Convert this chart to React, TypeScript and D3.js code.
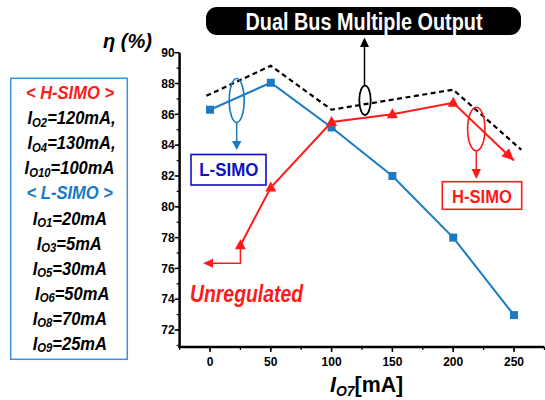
import React from "react";
import * as d3 from "d3";

const lX = [0, 50, 100, 150, 200, 250];
const lSimo = [86.3, 88.05, 85.15, 82.0, 78.0, 72.97];
const hX = [25, 50, 100, 150, 200, 250];
const hSimo = [77.5, 81.25, 85.5, 86.0, 86.75, 83.0];
const dX = [-3, 50, 100, 150, 200, 256];
const dual = [87.2, 89.15, 86.3, 86.95, 87.6, 83.7];
const xMajor = [0, 50, 100, 150, 200, 250];
const yMajor = [72, 74, 76, 78, 80, 82, 84, 86, 88, 90];

const legendLines: { c: string; cx: number; main?: string; sub?: string; rest?: string }[] = [
  { c: "#ff1a1a", cx: 70, rest: "< H-SIMO >" },
  { c: "#000", cx: 71.5, main: "I", sub: "O2", rest: "=120mA," },
  { c: "#000", cx: 71.5, main: "I", sub: "O4", rest: "=130mA," },
  { c: "#000", cx: 69.5, main: "I", sub: "O10", rest: "=100mA" },
  { c: "#1a7ac4", cx: 69.7, rest: "< L-SIMO >" },
  { c: "#000", cx: 69.8, main: "I", sub: "O1", rest: "=20mA" },
  { c: "#000", cx: 69.2, main: "I", sub: "O3", rest: "=5mA" },
  { c: "#000", cx: 69.8, main: "I", sub: "O5", rest: "=30mA" },
  { c: "#000", cx: 72.2, main: "I", sub: "O6", rest: "=50mA" },
  { c: "#000", cx: 69.8, main: "I", sub: "O8", rest: "=70mA" },
  { c: "#000", cx: 69.8, main: "I", sub: "O9", rest: "=25mA" },
];

const FONT = "'Liberation Sans', Arial, sans-serif";
const BLUE = "#1a7ac4";
const RED = "#ff1a1a";
const DBLUE = "#1010c8";

export default function App() {
  const x = d3.scaleLinear().domain([-25, 275]).range([179.6, 544.4]);
  const y = d3.scaleLinear().domain([70.9, 90]).range([347, 52.7]);
  const line = d3.line<[number, number]>().x((d) => x(d[0])).y((d) => y(d[1]));
  const lPts = lX.map((v, i) => [v, lSimo[i]] as [number, number]);
  const hPts = hX.map((v, i) => [v, hSimo[i]] as [number, number]);
  const dPts = dX.map((v, i) => [v, dual[i]] as [number, number]);
  const xMinor = d3.range(-25, 276, 25);
  const yMinor = d3.range(71, 90, 1);
  const x0 = x(-25);
  const yb = y(70.9);

  const a = hPts[hPts.length - 2];
  const b = hPts[hPts.length - 1];
  const ang = Math.atan2(y(b[1]) - y(a[1]), x(b[0]) - x(a[0]));
  const bx = x(b[0]), by = y(b[1]);
  const ah = (len: number, w: number) => {
    const p1 = [bx, by];
    const p2 = [bx - len * Math.cos(ang) + w * Math.sin(ang), by - len * Math.sin(ang) - w * Math.cos(ang)];
    const p3 = [bx - len * Math.cos(ang) - w * Math.sin(ang), by - len * Math.sin(ang) + w * Math.cos(ang)];
    return [p1, p2, p3].map((p) => p.join(",")).join(" ");
  };

  return (
    <svg width={545} height={400} style={{ position: "absolute", left: 0, top: 0, background: "#fff" }} fontFamily={FONT}>
      {/* axes */}
      <line x1={x0} x2={x0} y1={y(90)} y2={yb + 1} stroke="#000" strokeWidth={2.5} />
      <line x1={x0 - 1} x2={x(275)} y1={yb} y2={yb} stroke="#000" strokeWidth={2.5} />
      {yMinor.map((v) => (
        <line key={"ym" + v} x1={x0} x2={x0 - 3} y1={y(v)} y2={y(v)} stroke="#000" strokeWidth={1.2} />
      ))}
      {yMajor.map((v) => (
        <g key={"y" + v}>
          <line x1={x0} x2={x0 - 5} y1={y(v)} y2={y(v)} stroke="#000" strokeWidth={1.5} />
          <text x={x0 - 5} y={y(v)} dy="0.35em" textAnchor="end" fontSize={12} fontWeight="bold">{v}</text>
        </g>
      ))}
      {xMinor.map((v) => (
        <line key={"xm" + v} x1={x(v)} x2={x(v)} y1={yb} y2={yb + 3} stroke="#000" strokeWidth={1.2} />
      ))}
      {xMajor.map((v) => (
        <g key={"x" + v}>
          <line x1={x(v)} x2={x(v)} y1={yb} y2={yb + 5} stroke="#000" strokeWidth={1.5} />
          <text x={x(v)} y={yb + 19} textAnchor="middle" fontSize={12} fontWeight="bold">{v}</text>
        </g>
      ))}

      {/* axis titles */}
      <text x={103} y={48} fontSize={21} fontStyle="italic" fontWeight="bold" textLength={49} lengthAdjust="spacingAndGlyphs">η (%)</text>
      <g transform="translate(330,392) scale(0.93,1)">
        <text x={0} y={0} fontSize={23} fontWeight="bold">
          <tspan fontStyle="italic">I</tspan>
          <tspan fontStyle="italic" fontSize={15} dy={4}>O7</tspan>
          <tspan dy={-4}>[mA]</tspan>
        </text>
      </g>

      {/* dashed dual bus line */}
      <path d={line(dPts) || ""} fill="none" stroke="#000" strokeWidth={2.2} strokeDasharray="5,3.5" />

      {/* L-SIMO */}
      <path d={line(lPts) || ""} fill="none" stroke={BLUE} strokeWidth={2} />
      {lPts.map((p, i) => (
        <rect key={"ls" + i} x={x(p[0]) - 4} y={y(p[1]) - 4} width={8} height={8} fill={BLUE} />
      ))}

      {/* H-SIMO */}
      <path d={line(hPts) || ""} fill="none" stroke={RED} strokeWidth={2} />
      {hPts.slice(0, -1).map((p, i) => {
        const cx = x(p[0]), cy = y(p[1]);
        return <polygon key={"hs" + i} points={`${cx},${cy - 6} ${cx - 5.5},${cy + 4} ${cx + 5.5},${cy + 4}`} fill={RED} />;
      })}
      <polygon points={ah(12, 5.5)} fill={RED} />

      {/* title box */}
      <rect x={206} y={7} width={315} height={28} rx={11} fill="#000" />
      <text x={364} y={29.5} textAnchor="middle" fontSize={23} fontWeight="bold" fill="#fff" textLength={237} lengthAdjust="spacingAndGlyphs">Dual Bus Multiple Output</text>
      <ellipse cx={365} cy={100.3} rx={5.7} ry={14.7} fill="none" stroke="#000" strokeWidth={1.8} />
      <line x1={364.5} x2={364.5} y1={85.7} y2={46} stroke="#000" strokeWidth={1.5} />
      <polygon points="364.5,37.5 360,47 369,47" fill="#000" />

      {/* L-SIMO annotation */}
      <ellipse cx={236.7} cy={100.5} rx={7.5} ry={22} fill="none" stroke={BLUE} strokeWidth={1.6} />
      <line x1={236.7} x2={236.7} y1={122.5} y2={142} stroke={BLUE} strokeWidth={1.5} />
      <polygon points="236.7,150 232,141 241.4,141" fill={BLUE} />
      <rect x={191} y={154.5} width={75} height={30.5} fill="#fff" stroke={DBLUE} strokeWidth={1.6} />
      <text x={228.8} y={176.3} textAnchor="middle" fontSize={19} fontWeight="bold" fill={DBLUE} textLength={59} lengthAdjust="spacingAndGlyphs">L-SIMO</text>

      {/* H-SIMO annotation */}
      <ellipse cx={476.3} cy={129} rx={8.7} ry={21.8} fill="none" stroke={RED} strokeWidth={1.6} />
      <line x1={476.3} x2={476.3} y1={150.8} y2={170} stroke={RED} strokeWidth={1.5} />
      <polygon points="476.3,179 471.5,169 481,169" fill={RED} />
      <rect x={442.3} y={181.7} width={79.4} height={27.6} fill="#fff" stroke={RED} strokeWidth={1.6} />
      <text x={482} y={202.5} textAnchor="middle" fontSize={19} fontWeight="bold" fill={RED} textLength={60} lengthAdjust="spacingAndGlyphs">H-SIMO</text>

      {/* Unregulated annotation */}
      <polyline points={`${x(hX[0])},${y(hSimo[0])} ${x(hX[0])},263.3 212,263.3`} fill="none" stroke={RED} strokeWidth={1.5} />
      <polygon points="203,263.3 213,258.8 213,267.8" fill={RED} />
      <text x={190} y={302} fontSize={24} fontWeight="bold" fontStyle="italic" fill={RED} textLength={113} lengthAdjust="spacingAndGlyphs">Unregulated</text>

      {/* legend box */}
      <rect x={10.7} y={78.3} width={116.6} height={281} fill="#fff" stroke="#3d8fd6" strokeWidth={1.5} />
      {legendLines.map((l, i) => {
        const cy = 92.7 + i * 25.06;
        return (
          <g key={"lg" + i} transform={`translate(${l.cx},${cy + 6.5}) scale(0.87,1)`}>
            <text x={0} y={0} textAnchor="middle" fontSize={19} fontWeight="bold" fontStyle="italic" fill={l.c}>
              {l.main ? (
                <>
                  <tspan>{l.main}</tspan>
                  <tspan fontSize={13} dy={2.5}>{l.sub}</tspan>
                  <tspan dy={-2.5}>{l.rest}</tspan>
                </>
              ) : (
                l.rest
              )}
            </text>
          </g>
        );
      })}
    </svg>
  );
}
